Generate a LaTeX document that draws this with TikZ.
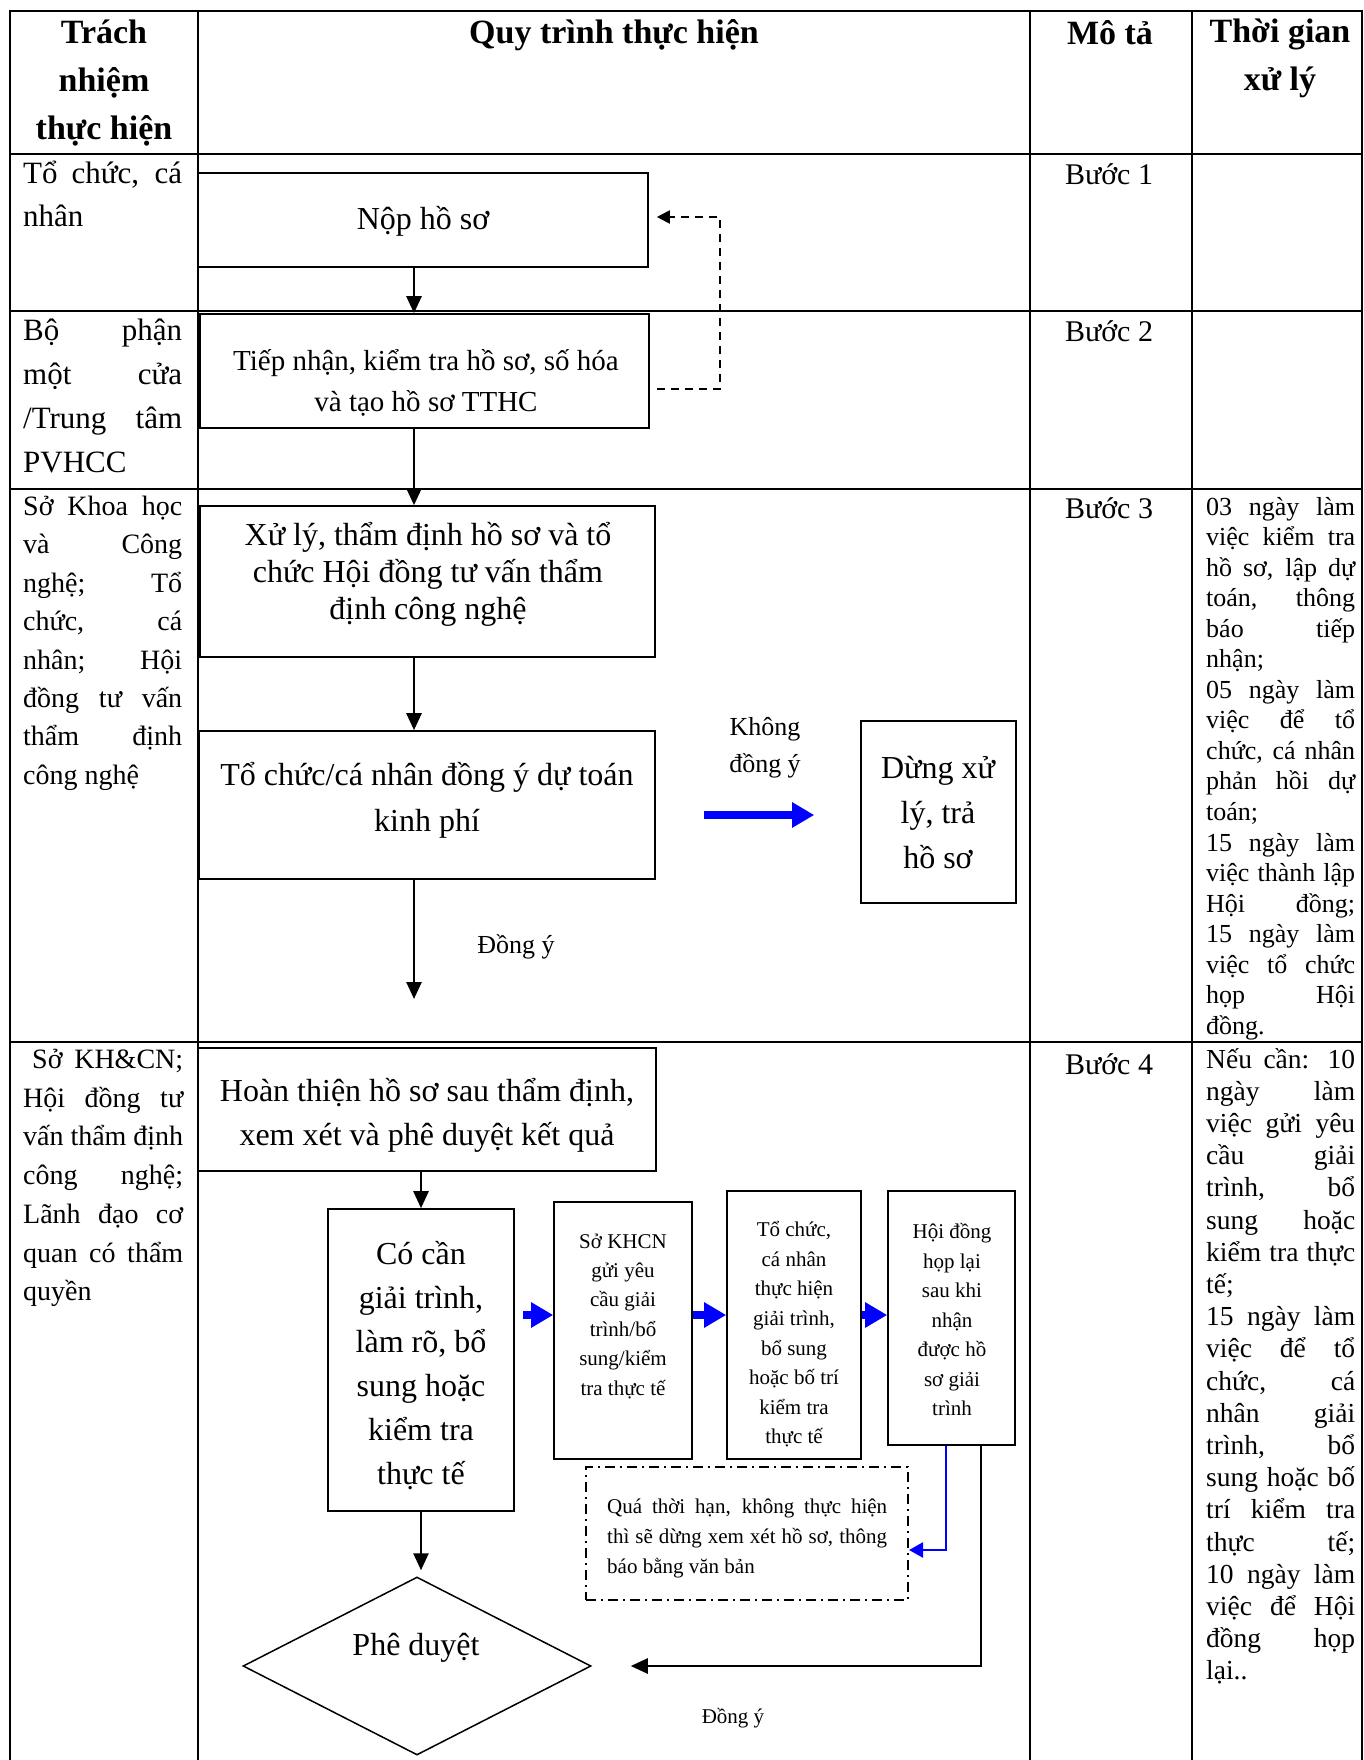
\documentclass[tikz,border=0pt]{standalone}
\usepackage{fontspec}
\setmainfont{Liberation Serif}
\usetikzlibrary{arrows.meta,shapes.geometric,calc}
\newlength\jw
\newcommand\jst[1]{\makebox[\jw][s]{#1}}
\newcommand\fsz[2]{\fontsize{#1pt}{#2pt}\selectfont}
\tikzset{
  tbl/.style={line width=2.5pt, line cap=rect},
  box/.style={draw, line width=1.6pt, inner sep=0pt},
  txt/.style={inner sep=0pt, align=center},
  ln/.style={inner sep=0pt, anchor=base west},
  arr/.style={line width=2.6pt, -{Triangle[length=17pt,width=15pt]}},
  dsh/.style={line width=2pt, dash pattern=on 8pt off 6pt, -{Triangle[length=13pt,width=13pt]}},
  bluearr/.style={draw=blue, line width=8pt, -{Triangle[length=22pt,width=24pt]}, blue},
  thinblue/.style={draw=blue, line width=2.2pt, -{Triangle[length=14pt,width=15pt]}, blue},
  dashdot/.style={draw, line width=2pt, dash pattern=on 10pt off 5pt on 2pt off 5pt, inner sep=0pt},
  hdr/.style={txt, font=\bfseries\fsz{34}{48}},
  big/.style={txt, font=\fsz{32}{44}},
  small/.style={txt, font=\fsz{21}{29.4}},
}
\begin{document}
\begin{tikzpicture}[x=1pt,y=-1pt]
\useasboundingbox (0,0) rectangle (1364,1760);
\fill[white] (0,0) rectangle (1364,1760);
% ---------- table grid ----------
\draw[tbl] (10,11) -- (1362,11);
\foreach \yy in {154,311,489,1042} \draw[tbl] (10,\yy) -- (1362,\yy);
\foreach \xx in {10,198,1030,1192,1362} \draw[tbl] (\xx,11) -- (\xx,1770);
% ---------- headers ----------
\node[hdr] (h1) at (104,83) {Trách\\nhiệm\\thực hiện};
\node[hdr] (h2) at (614,35) {Quy trình thực hiện};
\node[hdr] (h3) at (1110,33) {Mô tả};
\node[hdr] (h4) at (1280,58) {Thời gian\\xử lý};
% ---------- column 1 ----------
\setlength\jw{159pt}
\node[ln, font=\fsz{31}{40}] (a1) at (23,184) {\jst{Tổ chức, cá}};
\node[ln, font=\fsz{31}{40}] (a2) at (23,227) {nhân};
\foreach \t [count=\i] in {{\jst{Bộ phận}},{\jst{một cửa}},{\jst{/Trung tâm}},{PVHCC}}
  \node[ln, font=\fsz{31}{40}] (b\i) at (23,{341+(\i-1)*43.7}) {\t};
\foreach \t [count=\i] in {{\jst{Sở Khoa học}},{\jst{và Công}},{\jst{nghệ; Tổ}},{\jst{chức, cá}},{\jst{nhân; Hội}},{\jst{đồng tư vấn}},{\jst{thẩm định}},{công nghệ}}
  \node[ln, font=\fsz{28}{34}] (c\i) at (23,{515.5+(\i-1)*38.4}) {\t};
\setlength\jw{160pt}
\foreach \t [count=\i] in {{\jst{\hspace*{9pt}Sở KH\&CN;}},{\jst{Hội đồng tư}},{\jst{vấn thẩm định}},{\jst{công nghệ;}},{\jst{Lãnh đạo cơ}},{\jst{quan có thẩm}},{quyền}}
  \node[ln, font=\fsz{28}{34}] (d\i) at (23,{1068.5+(\i-1)*38.7}) {\t};
% ---------- column 3 ----------
\node[txt, font=\fsz{30}{36}] (s1) at (1109,174) {Bước 1};
\node[txt, font=\fsz{30}{36}] (s2) at (1109,331) {Bước 2};
\node[txt, font=\fsz{30}{36}] (s3) at (1109,508) {Bước 3};
\node[txt, font=\fsz{30}{36}] (s4) at (1109,1064) {Bước 4};
% ---------- column 4 ----------
\setlength\jw{149pt}
\foreach \t [count=\i] in {{\jst{03 ngày làm}},{\jst{việc kiểm tra}},{\jst{hồ sơ, lập dự}},{\jst{toán, thông}},{\jst{báo tiếp}},{nhận;},
  {\jst{05 ngày làm}},{\jst{việc để tổ}},{\jst{chức, cá nhân}},{\jst{phản hồi dự}},{toán;},
  {\jst{15 ngày làm}},{\jst{việc thành lập}},{\jst{Hội đồng;}},{\jst{15 ngày làm}},{\jst{việc tổ chức}},{\jst{họp Hội}},{đồng.}}
  \node[ln, font=\fsz{26}{30}] (e\i) at (1206,{515+(\i-1)*30.55}) {\t};
\foreach \t [count=\i] in {{\jst{Nếu cần: 10}},{\jst{ngày làm}},{\jst{việc gửi yêu}},{\jst{cầu giải}},{\jst{trình, bổ}},{\jst{sung hoặc}},{\jst{kiểm tra thực}},{tế;},
  {\jst{15 ngày làm}},{\jst{việc để tổ}},{\jst{chức, cá}},{\jst{nhân giải}},{\jst{trình, bổ}},{\jst{sung hoặc bố}},{\jst{trí kiểm tra}},{\jst{thực tế;}},
  {\jst{10 ngày làm}},{\jst{việc để Hội}},{\jst{đồng họp}},{lại..}}
  \node[ln, font=\fsz{27.5}{32}] (f\i) at (1206,{1068+(\i-1)*32.2}) {\t};
% ---------- boxes ----------
\node[box, minimum width=450pt, minimum height=94pt] (B1) at (423,220) {};
\node[box, minimum width=449pt, minimum height=114pt] (B2) at (424.5,371) {};
\node[box, minimum width=455pt, minimum height=151pt] (B3) at (427.5,581.5) {};
\node[box, minimum width=456pt, minimum height=148pt] (B4) at (427,805) {};
\node[box, minimum width=155pt, minimum height=182pt] (B5) at (938.5,812) {};
\node[box, minimum width=458pt, minimum height=123pt] (B6) at (427,1109.5) {};
\node[box, minimum width=186pt, minimum height=302pt] (B7) at (421,1360) {};
\node[box, minimum width=138pt, minimum height=257pt] (B8) at (623,1330.5) {};
\node[box, minimum width=134pt, minimum height=268pt] (B9) at (794,1325) {};
\node[box, minimum width=127pt, minimum height=254pt] (B10) at (951.5,1318) {};
\node[dashdot, minimum width=322pt, minimum height=133pt] (Q) at (747,1533.5) {};
\node[draw, diamond, line width=1.5pt, minimum width=348pt, minimum height=178pt, inner sep=0pt] (D) at (417,1666) {};
% ---------- box texts ----------
\node[big] (T1) at (423,221) {Nộp hồ sơ};
\node[txt, font=\fsz{29}{41}] (T2) at (426,383) {Tiếp nhận, kiểm tra hồ sơ, số hóa\\và tạo hồ sơ TTHC};
\node[txt, font=\fsz{32}{37}] (T3) at (428,574) {Xử lý, thẩm định hồ sơ và tổ\\chức Hội đồng tư vấn thẩm\\định công nghệ};
\node[txt, font=\fsz{32}{46}] (T4) at (427,800) {Tổ chức/cá nhân đồng ý dự toán\\kinh phí};
\node[txt, font=\fsz{32}{45}] (T5) at (938,813) {Dừng xử\\lý, trả\\hồ sơ};
\node[big] (T6) at (427,1115) {Hoàn thiện hồ sơ sau thẩm định,\\xem xét và phê duyệt kết quả};
\node[big] (T7) at (421,1366) {Có cần\\giải trình,\\làm rõ, bổ\\sung hoặc\\kiểm tra\\thực tế};
\node[small] (T8) at (623,1316) {Sở KHCN\\gửi yêu\\cầu giải\\trình/bổ\\sung/kiểm\\tra thực tế};
\node[txt, font=\fsz{21}{29.6}] (T9) at (794,1334.5) {Tổ chức,\\cá nhân\\thực hiện\\giải trình,\\bổ sung\\hoặc bố trí\\kiểm tra\\thực tế};
\node[txt, font=\fsz{21}{29.5}] (T10) at (952,1319.5) {Hội đồng\\họp lại\\sau khi\\nhận\\được hồ\\sơ giải\\trình};
\node[big] (TD) at (416,1648) {Phê duyệt};
\setlength\jw{280pt}
\node[ln, font=\fsz{21}{30}] (q1) at (607,1513) {\jst{Quá thời hạn, không thực hiện}};
\node[ln, font=\fsz{21}{30}] (q2) at (607,1543) {\jst{thì sẽ dừng xem xét hồ sơ, thông}};
\node[ln, font=\fsz{21}{30}] (q3) at (607,1573) {báo bằng văn bản};
% ---------- labels ----------
\node[txt, font=\fsz{26}{37}] (L1) at (765,747.5) {Không\\đồng ý};
\node[txt, font=\fsz{26}{30}] (L2) at (516,947) {Đồng ý};
\node[txt, font=\fsz{21}{26}] (L3) at (733,1718) {Đồng ý};
% ---------- connectors ----------
\coordinate (ax) at (414,0);
\coordinate (e3) at (414,999);
\draw[arr] (B1.south -| ax) -- (B2.north -| ax);
\draw[arr] (B2.south -| ax) -- (B3.north -| ax);
\draw[arr] (B3.south -| ax) -- (B4.north -| ax);
\draw[arr] (B4.south -| ax) -- (e3);
\draw[dsh] ([xshift=7pt,yshift=-18pt]B2.east) -- ++(63,0) |- ([xshift=8pt,yshift=3pt]B1.east);
\draw[bluearr] ([xshift=48pt,yshift=-10pt]B4.east) -- ([xshift=-46pt,yshift=-3pt]B5.west);
\draw[arr] (B7.north |- B6.south) -- (B7.north);
\draw[arr, shorten >=6pt] (B7.south) -- (B7.south |- D.north);
\coordinate (yb) at (0,1315);
\draw[bluearr] ($(B7.east |- yb)+(8,0)$) -- (B8.west |- yb);
\draw[bluearr] (B8.east |- yb) -- (B9.west |- yb);
\draw[bluearr] (B9.east |- yb) -- (B10.west |- yb);
\coordinate (xb) at (946,0);
\draw[thinblue] (B10.south -| xb) |- ($(Q.east)+(0,16.5)$);
\coordinate (xr) at (981,0);
\draw[arr] (B10.south -| xr) |- ($(D.east)+(39,0)$);
\end{tikzpicture}
\end{document}
